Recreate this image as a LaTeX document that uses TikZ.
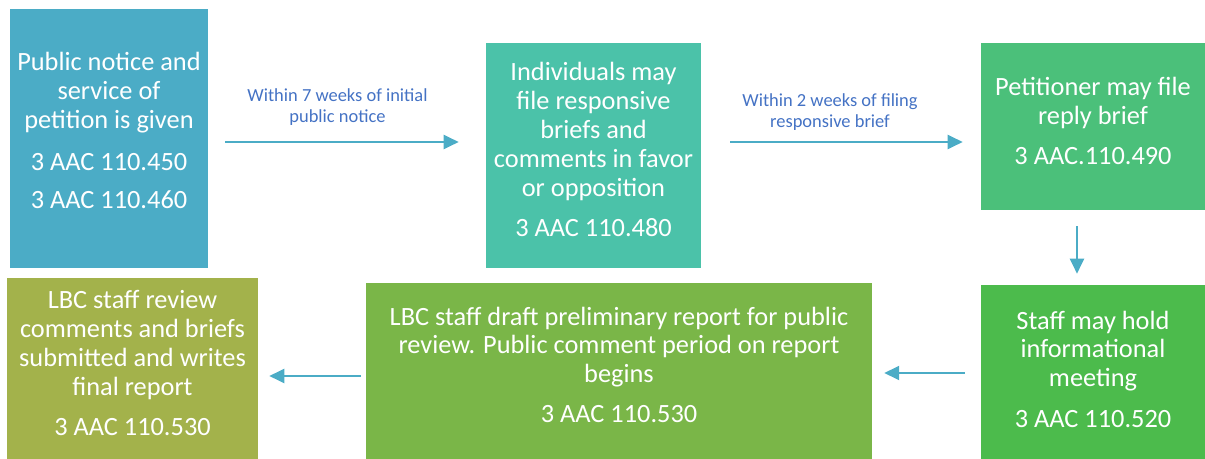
\documentclass[tikz,border=0pt]{standalone}
\usepackage{fontspec}
\setmainfont{Carlito}
\usepackage{tikz}
\usetikzlibrary{arrows.meta}
\usepackage{color}

\definecolor{aqua}{RGB}{75,172,198}
\definecolor{teal}{RGB}{75,194,169}
\definecolor{mint}{RGB}{75,192,122}
\definecolor{leaf}{RGB}{76,187,76}
\definecolor{grass}{RGB}{122,182,72}
\definecolor{olive}{RGB}{163,178,75}
\definecolor{note}{RGB}{68,114,196}

\newcommand{\lift}[1]{\rule[-#1]{0pt}{#1}}

\begin{document}
\begin{tikzpicture}[x=0.02cm, y=-0.02cm,
  stepbox/.style={rectangle, inner sep=0pt, text=white, align=center,
    font=\fontsize{15}{16.4}\selectfont},
  flow/.style={aqua, line width=1.1pt, -{Triangle[length=8.5pt, width=8pt]}},
  lbl/.style={note, align=center, font=\fontsize{10.5}{11.5}\selectfont}]
\useasboundingbox (0,0) rectangle (1205,459);

\node[stepbox, fill=aqua, minimum width=3.96cm, minimum height=5.18cm] (notice) at (109,138.5)
  {Public notice and\\service of\\petition is given\\[7.5pt]3 AAC 110.450\\[5.5pt]3 AAC 110.460\lift{9pt}};
\node[stepbox, fill=teal, minimum width=4.30cm, minimum height=4.50cm] (briefs) at (593.5,155.5)
  {Individuals may\\file responsive\\briefs and\\comments in favor\\or opposition\\[6.5pt]3 AAC 110.480\lift{7pt}};
\node[stepbox, fill=mint, minimum width=4.48cm, minimum height=3.34cm] (reply) at (1093,126.5)
  {Petitioner may file\\reply brief\\[6.5pt]3 AAC.110.490\lift{6pt}};
\node[stepbox, fill=leaf, minimum width=4.48cm, minimum height=3.48cm] (meeting) at (1093,372)
  {Staff may hold\\informational\\meeting\\[6.5pt]3 AAC 110.520\lift{3.5pt}};
\node[stepbox, fill=grass, minimum width=10.12cm, minimum height=3.52cm] (draft) at (619,371)
  {LBC staff draft preliminary report for public\\review. Public comment period on report\\begins\\[6.5pt]3 AAC 110.530\lift{7pt}};
\node[stepbox, fill=olive, minimum width=5.02cm, minimum height=3.62cm] (final) at (132.5,368.5)
  {LBC staff review\\comments and briefs\\submitted and writes\\final report\\[6.5pt]3 AAC 110.530\lift{6pt}};

\node[lbl] (seven) at (337.5,107) {Within 7 weeks of initial\\public notice};
\node[lbl] (two) at (830,112) {Within 2 weeks of filing\\responsive brief};

\coordinate (row) at (0,142);
\coordinate (col) at (1077,0);
\coordinate (low) at (0,373);
\coordinate (lower) at (0,376);

\draw[flow, shorten <=17*0.02cm, shorten >=27*0.02cm] (notice.east |- row) -- (briefs.west |- row);
\draw[flow, shorten <=29*0.02cm, shorten >=18*0.02cm] (briefs.east |- row) -- (reply.west |- row);
\draw[flow, shorten <=16*0.02cm, shorten >=11*0.02cm] (reply.south -| col) -- (meeting.north -| col);
\draw[flow, shorten <=16*0.02cm, shorten >=12*0.02cm] (meeting.west |- low) -- (draft.east |- low);
\draw[flow, shorten <=5*0.02cm, shorten >=11*0.02cm] (draft.west |- lower) -- (final.east |- lower);

\end{tikzpicture}
\end{document}
